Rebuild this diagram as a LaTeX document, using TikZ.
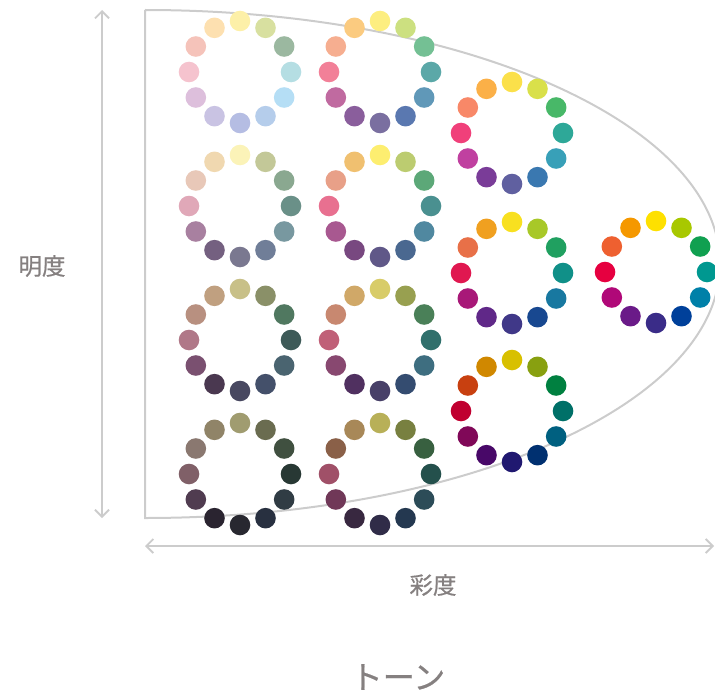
\documentclass[tikz,border=0pt]{standalone}
\usepackage{fontspec}
\newfontfamily\jp[FakeBold=0.6]{Noto Sans CJK JP}
\usetikzlibrary{arrows.meta}
\definecolor{linegray}{HTML}{CCCCCC}
\definecolor{txtgray}{HTML}{858080}
\tikzset{
  dot/.style={circle, inner sep=0pt, minimum size=20.6pt, draw=none},
  frame/.style={draw=linegray, line width=2pt},
  axis/.style={draw=linegray, line width=1.8pt, {Straight Barb[length=7pt,width=14pt]}-{Straight Barb[length=7pt,width=14pt]}},
  lbl/.style={text=txtgray, font=\jp\fontsize{23.5pt}{26pt}\selectfont, inner sep=0pt}
}
\newcommand\tonewheel[4]{%
  \foreach \c [count=\i from 0] in {#4} {
    \definecolor{dotc}{HTML}{\c}
    \node[dot, fill=dotc] (#1-\i) at ({#2+51*sin(30*\i)},{#3-51*cos(30*\i)}) {};
  }%
}
\begin{document}
\begin{tikzpicture}[x=1pt,y=-1pt]
\useasboundingbox (0,0) rectangle (715,693);
% frame (half ellipse)
\coordinate (ftop) at (145,10);
\coordinate (fbot) at (145,518);
\draw[frame] (ftop) -- (fbot) arc[start angle=90, end angle=-90, x radius=575, y radius=254];
% axes
\coordinate (vt) at (102,10);
\coordinate (vb) at (102,518);
\coordinate (hl) at (145,546);
\coordinate (hr) at (714,546);
\draw[axis] (vt) -- (vb);
\draw[axis] (hl) -- (hr);
% labels
\node[lbl] (meido) at (42,266) {明度};
\node[lbl] (saido) at (433,585) {彩度};
\node[lbl, font=\jp\fontsize{32pt}{35pt}\selectfont] (tone) at (398,677) {トーン};
% wheels
\tonewheel{pale}{240}{72}{FDF0A8,D8E0A0,9BB8A0,B5DEE3,B5DEF5,B5CDEB,B5BDE3,C9C3E3,DDBFDC,F5C3CE,F5C3BA,FDE0B0}
\tonewheel{light}{380}{72}{FDEE80,CCE080,74C094,5BA8A8,6098B8,5A78B0,7A6FA0,8A5E9C,C06AA0,F28098,F6AE90,FBCB80}
\tonewheel{bright}{512}{133}{FBE04A,D9E04A,48B868,2EA898,38A0B8,3A78B0,6060A0,7A3C98,C040A0,F0407A,F88868,FBB048}
\tonewheel{ltg}{240}{206}{FBF3B8,C3C898,8AA890,6A9088,7898A0,707E98,7A7890,746080,A880A0,E0A8B8,E8C8B8,F0D8B0}
\tonewheel{soft}{380}{206}{FDEE70,BCCC70,5CA878,4A9090,5088A0,4A6890,605888,784880,A85890,E87090,E8A088,F0C070}
\tonewheel{strong}{512}{273}{F8E020,A8C828,20A060,109088,1878A0,184890,403888,602888,A81878,E01850,E87048,F0A020}
\tonewheel{vivid}{656}{272}{FEE000,A8C800,10A050,009890,0080A8,00409A,3A2C88,6A1A88,B00878,E60040,EE6030,F59800}
\tonewheel{grayish}{240}{340}{C8C088,8A9068,507860,3E5A58,4A6470,44506A,484860,4A3850,7A5070,B07888,B89080,C0A080}
\tonewheel{dull}{380}{340}{D8CC68,98A050,4A8058,30706C,3E6E80,344C70,484068,503060,884870,C06078,C88870,D0A868}
\tonewheel{deep}{512}{411}{D8C000,88A010,008040,007068,006080,003070,201870,480868,800858,C00030,C84010,D08800}
\tonewheel{dkg}{240}{474}{A09C70,6A6C50,405040,283834,303C44,283040,282830,2A2430,503C50,806068,8A7870,908468}
\tonewheel{dark}{380}{474}{B8B058,788040,386040,24504C,2C4C58,243850,302C48,382840,703858,A05068,8A6048,A88858}
\end{tikzpicture}
\end{document}
